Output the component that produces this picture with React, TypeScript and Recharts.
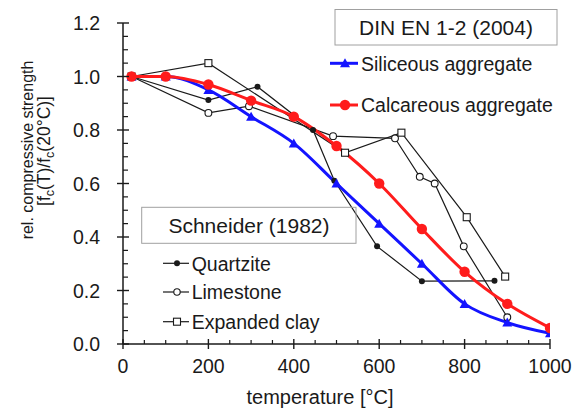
import React from "react";
import { LineChart, Line, XAxis, YAxis } from "recharts";

const FONT = "'Liberation Sans', Arial, sans-serif";
const INK = "#1a1a1a";
const BLUE = "#1414ff";
const RED = "#ff1c1c";

// DIN EN 1992-1-2 reduction factors
const dinTemps = [20, 100, 200, 300, 400, 500, 600, 700, 800, 900, 1000];
const siliceous = [1, 1, 0.95, 0.85, 0.75, 0.6, 0.45, 0.3, 0.15, 0.08, 0.04];
const calcareous = [1, 1, 0.97, 0.91, 0.85, 0.74, 0.6, 0.43, 0.27, 0.15, 0.06];

// Schneider (1982) test series
const quartziteTemps = [20, 200, 315, 445, 495, 595, 700, 870];
const quartzite = [1, 0.912, 0.962, 0.8, 0.61, 0.365, 0.235, 0.236];
const limestoneTemps = [20, 200, 295, 492, 637, 695, 730, 798, 900];
const limestone = [1, 0.864, 0.889, 0.777, 0.769, 0.625, 0.6, 0.365, 0.1];
const expandedTemps = [20, 200, 520, 652, 805, 895];
const expanded = [1, 1.05, 0.715, 0.79, 0.474, 0.252];

const xTicks = [0, 50, 100, 150, 200, 250, 300, 350, 400, 450, 500, 550, 600, 650, 700, 750, 800, 850, 900, 950, 1000];
const yTicks = [0, 0.05, 0.1, 0.15, 0.2, 0.25, 0.3, 0.35, 0.4, 0.45, 0.5, 0.55, 0.6, 0.65, 0.7, 0.75, 0.8, 0.85, 0.9, 0.95, 1, 1.05, 1.1, 1.15, 1.2];

const toRows = (ts: number[], vs: number[]) => ts.map((t, i) => ({ t, v: vs[i] }));

const siliceousRows = toRows(dinTemps, siliceous);
const calcareousRows = toRows(dinTemps, calcareous);
const quartziteRows = toRows(quartziteTemps, quartzite);
const limestoneRows = toRows(limestoneTemps, limestone);
const expandedRows = toRows(expandedTemps, expanded);

const triPoints = (x: number, y: number, s = 5) =>
  `${x},${y - s} ${x + s},${y + s * 0.8} ${x - s},${y + s * 0.8}`;

const triDot = (p: any) => <polygon key={p.index} points={triPoints(p.cx, p.cy)} fill={BLUE} />;
const redDot = (p: any) => <circle key={p.index} cx={p.cx} cy={p.cy} r={5.2} fill={RED} />;
const filledDot = (p: any) => <circle key={p.index} cx={p.cx} cy={p.cy} r={3} fill={INK} />;
const openDot = (p: any) => (
  <circle key={p.index} cx={p.cx} cy={p.cy} r={3.4} fill="#fff" stroke={INK} strokeWidth={1.1} />
);
const squareDot = (p: any) => (
  <rect key={p.index} x={p.cx - 3.5} y={p.cy - 3.5} width={7} height={7} fill="#fff" stroke={INK} strokeWidth={1.1} />
);

const XTick = (props: any) => {
  const { x, y, payload } = props;
  const major = payload.value % 200 === 0;
  return (
    <g>
      {major ? (
        <line x1={x} x2={x} y1={y - 5} y2={y + 5} stroke={INK} strokeWidth={1.4} />
      ) : (
        <line x1={x} x2={x} y1={y} y2={y - 4} stroke={INK} strokeWidth={1.2} />
      )}
      {major && (
        <text x={x} y={y + 29} textAnchor="middle" fontSize={19.5} fontFamily={FONT} fill={INK}>
          {payload.value}
        </text>
      )}
    </g>
  );
};

const YTick = (props: any) => {
  const { x, y, payload } = props;
  const major = Math.round(payload.value * 100) % 20 === 0;
  return (
    <g>
      {major ? (
        <line x1={x - 6} x2={x + 6} y1={y} y2={y} stroke={INK} strokeWidth={1.4} />
      ) : (
        <line x1={x} x2={x + 5} y1={y} y2={y} stroke={INK} strokeWidth={1.2} />
      )}
      {major && (
        <text x={x - 23} y={y + 7} textAnchor="end" fontSize={19.5} fontFamily={FONT} fill={INK}>
          {payload.value.toFixed(1)}
        </text>
      )}
    </g>
  );
};

const Overlay = () => (
  <svg width={574} height={410} style={{ position: "absolute", left: 0, top: 0, pointerEvents: "none" }}>
    <g fontFamily={FONT} fill={INK}>
      {/* y axis title */}
      <text transform="translate(33,150) rotate(-90)" textAnchor="middle" fontSize={16}>
        rel. compressive strength
      </text>
      <text transform="translate(49.5,151) rotate(-90)" textAnchor="middle" fontSize={17.5}>
        <tspan>[f</tspan>
        <tspan fontSize={12.5} dy={4}>c</tspan>
        <tspan dy={-4}>(T)/f</tspan>
        <tspan fontSize={12.5} dy={4}>c</tspan>
        <tspan dy={-4}>(20°C)]</tspan>
      </text>
      <text x={320} y={404} textAnchor="middle" fontSize={20}>
        temperature [°C]
      </text>

      {/* DIN legend */}
      <rect x={335} y={9.5} width={222} height={35.5} fill="#fff" stroke="#a0a0a0" strokeWidth={1} />
      <text x={446} y={34.5} textAnchor="middle" fontSize={21}>DIN EN 1-2 (2004)</text>
      <line x1={330} x2={358} y1={63.3} y2={63.3} stroke={BLUE} strokeWidth={3} />
      <polygon points={triPoints(345, 63.3)} fill={BLUE} />
      <text x={361} y={70.5} fontSize={19.5}>Siliceous aggregate</text>
      <line x1={330} x2={358} y1={105} y2={105} stroke={RED} strokeWidth={3} />
      <circle cx={345} cy={105} r={5.2} fill={RED} />
      <text x={361} y={112} fontSize={19.5}>Calcareous aggregate</text>

      {/* Schneider legend */}
      <rect x={141.7} y={207.3} width={214.3} height={36} fill="none" stroke="#a0a0a0" strokeWidth={1} />
      <text x={249} y={232.7} textAnchor="middle" fontSize={21}>Schneider (1982)</text>
      <line x1={163} x2={189} y1={263.3} y2={263.3} stroke={INK} strokeWidth={1.2} />
      <circle cx={177} cy={263.3} r={3} fill={INK} />
      <text x={191.7} y={270.5} fontSize={19.5}>Quartzite</text>
      <line x1={163} x2={189} y1={292} y2={292} stroke={INK} strokeWidth={1.2} />
      <circle cx={177} cy={292} r={3.2} fill="#fff" stroke={INK} strokeWidth={1.1} />
      <text x={191.7} y={299.2} fontSize={19.5}>Limestone</text>
      <line x1={163} x2={189} y1={321.7} y2={321.7} stroke={INK} strokeWidth={1.2} />
      <rect x={173.5} y={318.2} width={7} height={7} fill="#fff" stroke={INK} strokeWidth={1.1} />
      <text x={191.7} y={328.9} fontSize={19.5}>Expanded clay</text>
    </g>
  </svg>
);

export default function App() {
  return (
    <div style={{ position: "absolute", left: 0, top: 0, width: 574, height: 410, background: "#fff" }}>
      <LineChart width={574} height={410} margin={{ top: 23, right: 24, bottom: 0, left: 0 }}>
        <XAxis
          type="number"
          dataKey="t"
          domain={[0, 1000]}
          ticks={xTicks}
          interval={0}
          tickSize={0}
          tickMargin={0}
          tickLine={false}
          tick={<XTick />}
          height={66}
          axisLine={{ stroke: INK, strokeWidth: 1.5 }}
          allowDataOverflow
        />
        <YAxis
          type="number"
          dataKey="v"
          domain={[0, 1.2]}
          ticks={yTicks}
          interval={0}
          tickSize={0}
          tickMargin={0}
          tickLine={false}
          tick={<YTick />}
          width={123}
          axisLine={{ stroke: INK, strokeWidth: 1.5 }}
          allowDataOverflow
        />
        <Line data={quartziteRows} dataKey="v" type="linear" stroke={INK} strokeWidth={1.2} dot={filledDot} activeDot={false} isAnimationActive={false} />
        <Line data={limestoneRows} dataKey="v" type="linear" stroke={INK} strokeWidth={1.2} dot={openDot} activeDot={false} isAnimationActive={false} />
        <Line data={expandedRows} dataKey="v" type="linear" stroke={INK} strokeWidth={1.2} dot={squareDot} activeDot={false} isAnimationActive={false} />
        <Line data={siliceousRows} dataKey="v" type="monotone" stroke={BLUE} strokeWidth={3} dot={triDot} activeDot={false} isAnimationActive={false} />
        <Line data={calcareousRows} dataKey="v" type="monotone" stroke={RED} strokeWidth={3} dot={redDot} activeDot={false} isAnimationActive={false} />
      </LineChart>
      <Overlay />
    </div>
  );
}
